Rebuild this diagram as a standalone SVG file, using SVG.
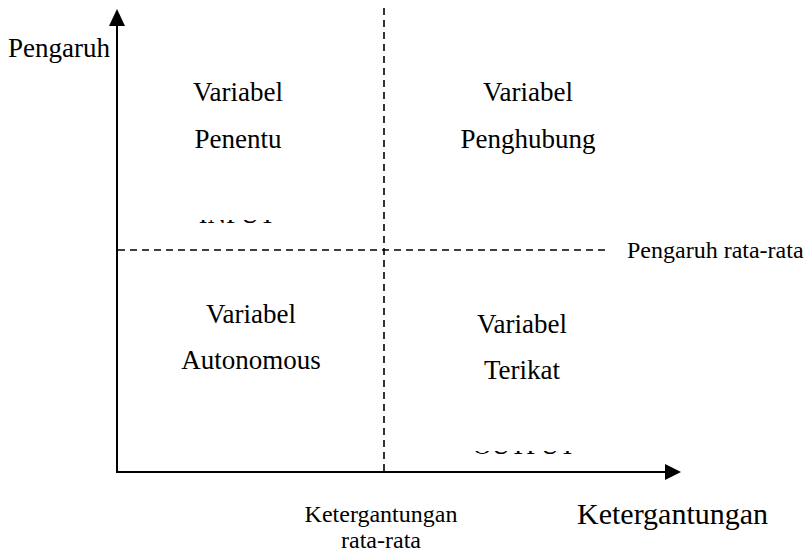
<svg xmlns="http://www.w3.org/2000/svg" width="808" height="553" viewBox="0 0 808 553">
  <style>
    .lbl { font-family: "Liberation Serif", "Times New Roman", serif; fill: #000; }
    .q { font-size: 27px; text-anchor: middle; }
    .axis { stroke: #000; stroke-width: 2; fill: none; }
    .dash { stroke: #000; stroke-width: 1.6; stroke-dasharray: 7 5; fill: none; }
  </style>
  <defs>
    <clipPath id="clipIn"><rect x="150" y="220" width="200" height="4"/></clipPath>
    <clipPath id="clipOut"><rect x="440" y="451" width="200" height="4"/></clipPath>
  </defs>

  <!-- axes and dividing lines -->
  <g id="connectors">
    <line class="axis" x1="117" y1="24" x2="117" y2="473"/>
    <polygon points="117,9 109,26 125,26" fill="#000"/>
    <line class="axis" x1="116" y1="472" x2="667" y2="472"/>
    <polygon points="681,472 665,464 665,480" fill="#000"/>
    <line class="dash" x1="384" y1="8" x2="384" y2="472"/>
    <line class="dash" x1="118" y1="250" x2="608" y2="250"/>
  </g>

  <g id="axis-y-label">
    <text class="lbl" x="8" y="57" font-size="27">Pengaruh</text>
  </g>

  <g id="quadrant-penentu">
    <text class="lbl q" x="238" y="101">Variabel</text>
    <text class="lbl q" x="238" y="148">Penentu</text>
    <text class="lbl" x="237" y="223" font-size="26" text-anchor="middle" clip-path="url(#clipIn)">INPUT</text>
  </g>

  <g id="quadrant-penghubung">
    <text class="lbl q" x="528" y="101">Variabel</text>
    <text class="lbl q" x="528" y="148">Penghubung</text>
  </g>

  <g id="quadrant-autonomous">
    <text class="lbl q" x="251" y="323">Variabel</text>
    <text class="lbl q" x="251" y="369">Autonomous</text>
  </g>

  <g id="quadrant-terikat">
    <text class="lbl q" x="522" y="333">Variabel</text>
    <text class="lbl q" x="522" y="379">Terikat</text>
    <text class="lbl" x="524" y="454" font-size="26" text-anchor="middle" clip-path="url(#clipOut)">OUTPUT</text>
  </g>

  <g id="avg-influence-label">
    <text class="lbl" x="627" y="258" font-size="24">Pengaruh rata-rata</text>
  </g>

  <g id="avg-dependence-label">
    <text class="lbl" x="381" y="522" font-size="24" text-anchor="middle">Ketergantungan</text>
    <text class="lbl" x="381" y="548" font-size="24" text-anchor="middle">rata-rata</text>
  </g>

  <g id="axis-x-label">
    <text class="lbl" x="577" y="524" font-size="30">Ketergantungan</text>
  </g>
</svg>
